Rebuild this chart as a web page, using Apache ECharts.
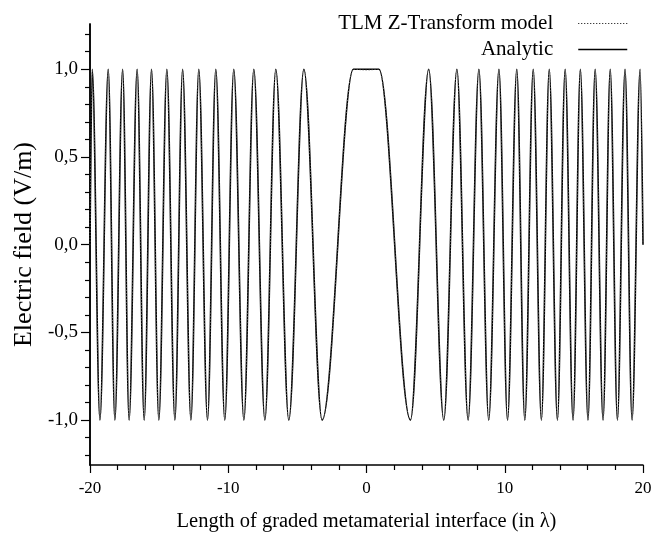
<!DOCTYPE html>
<html>
<head>
<meta charset="utf-8">
<script src="https://cdn.jsdelivr.net/npm/echarts@6/dist/echarts.min.js"></script>
<style>
html,body{margin:0;padding:0;background:#fff;}
#chart{width:666px;height:537px;}
</style>
</head>
<body>
<div id="chart"></div>
<script>
// Extremum positions (x in wavelengths)
var fieldX = [-20, -19.84, -19.28, -18.68, -18.20, -17.64, -17.17, -16.59, -16.08, -15.55, -15.02,
  -14.44, -13.86, -13.30, -12.70, -12.13, -11.50, -10.90, -10.25, -9.60, -8.87, -8.15, -7.35,
  -6.56, -5.62, -4.53, -3.21, -0.95, 0, 0.9, 3.18, 4.50, 5.59, 6.54, 7.35, 8.13, 8.84, 9.58,
  10.20, 10.87, 11.45, 12.06, 12.65, 13.22, 13.81, 14.37, 14.94, 15.47, 16.02, 16.54, 17.11,
  17.63, 18.15, 18.70, 19.21, 19.79, 20];
var analyticY = [0, 1, -1, 1, -1, 1, -1, 1, -1, 1, -1,
  1, -1, 1, -1, 1, -1, 1, -1, 1, -1, 1, -1,
  1, -1, 1, -1, 1, 1, 1, -1, 1, -1, 1, -1, 1, -1, 1,
  -1, 1, -1, 1, -1, 1, -1, 1, -1, 1, -1, 1, -1,
  1, -1, 1, -1, 1, 0];
var tlmY = [0, 1, -1, 1, -1, 1, -1, 1, -1, 1, -1,
  1, -1, 1, -1, 1, -1, 1, -1, 1, -1, 1, -1,
  1, -1, 1, -1, 1, 0.995, 1, -1, 1, -1, 1, -1, 1, -1, 1,
  -1, 1, -1, 1, -1, 1, -1, 1, -1, 1, -1, 1, -1,
  1, -1, 1, -1, 1, 0];
var yMajorTicks = [-1, -0.5, 0, 0.5, 1];
var yMinorTicks = [-1.2, -1.1, -0.9, -0.8, -0.7, -0.6, -0.4, -0.3, -0.2, -0.1, 0.1, 0.2, 0.3, 0.4, 0.6, 0.7, 0.8, 0.9, 1.1, 1.2];
var seriesNames = ['TLM Z-Transform model', 'Analytic'];

function pairs(xs, ys) { return xs.map(function (x, i) { return [x, ys[i]]; }); }

var FONT = 'Liberation Serif';
var chart = echarts.init(document.getElementById('chart'), null, {renderer: 'canvas'});
var yCommon = {
  type: 'value', min: -1.256, max: 1.258, position: 'left', offset: 0,
  axisLine: {show: true, onZero: false, lineStyle: {color: '#000', width: 1.5}},
  splitLine: {show: false}
};
chart.setOption({
  animation: false,
  backgroundColor: '#fff',
  grid: {left: 90, right: 23, top: 24, bottom: 67, containLabel: false},
  legend: {
    orient: 'vertical', right: 33, top: 8, align: 'right',
    itemWidth: 49, itemHeight: 12, itemGap: 5,
    itemStyle: {opacity: 0},
    textStyle: {fontFamily: FONT, fontSize: 21, color: '#000', padding: [0, 20, 0, 0]},
    data: [
      {name: seriesNames[0], lineStyle: {type: [1, 2], width: 1, color: '#000'}},
      {name: seriesNames[1], lineStyle: {type: 'solid', width: 1.5, color: '#000'}}
    ]
  },
  xAxis: {
    type: 'value', min: -20, max: 20, interval: 10,
    name: 'Length of graded metamaterial interface (in λ)',
    nameLocation: 'middle', nameGap: 46,
    nameTextStyle: {fontFamily: FONT, fontSize: 20.5, color: '#000'},
    axisLine: {show: true, onZero: false, lineStyle: {color: '#000', width: 1.5}},
    axisTick: {show: true, inside: false, length: 8, lineStyle: {color: '#000', width: 1.2}},
    minorTick: {show: true, splitNumber: 5, length: 5, lineStyle: {color: '#000', width: 1.2}},
    axisLabel: {fontFamily: FONT, fontSize: 17, color: '#000', margin: 15},
    splitLine: {show: false}
  },
  yAxis: [
    Object.assign({}, yCommon, {
      name: 'Electric field (V/m)', nameLocation: 'middle', nameGap: 49,
      nameTextStyle: {fontFamily: FONT, fontSize: 26, color: '#000'},
      axisTick: {show: true, inside: false, length: 9, customValues: yMajorTicks, lineStyle: {color: '#000', width: 1.2}},
      axisLabel: {fontFamily: FONT, fontSize: 19, color: '#000', margin: 12, customValues: yMajorTicks,
        formatter: function (v) { return v.toFixed(1).replace('.', ','); }}
    }),
    Object.assign({}, yCommon, {
      axisTick: {show: true, inside: false, length: 5, customValues: yMinorTicks, lineStyle: {color: '#000', width: 1.2}},
      axisLabel: {show: false}
    })
  ],
  series: [
    {
      name: seriesNames[1], type: 'line', data: pairs(fieldX, analyticY),
      smooth: 0.35, smoothMonotone: 'x', showSymbol: false, symbol: 'none',
      lineStyle: {color: '#000', width: 1.6, type: 'solid'}, z: 2
    },
    {
      name: seriesNames[0], type: 'line', data: pairs(fieldX, tlmY),
      smooth: 0.35, smoothMonotone: 'x', showSymbol: false, symbol: 'none',
      lineStyle: {color: '#666', width: 1, type: [1, 2]}, z: 3
    }
  ]
});
</script>
</body>
</html>
